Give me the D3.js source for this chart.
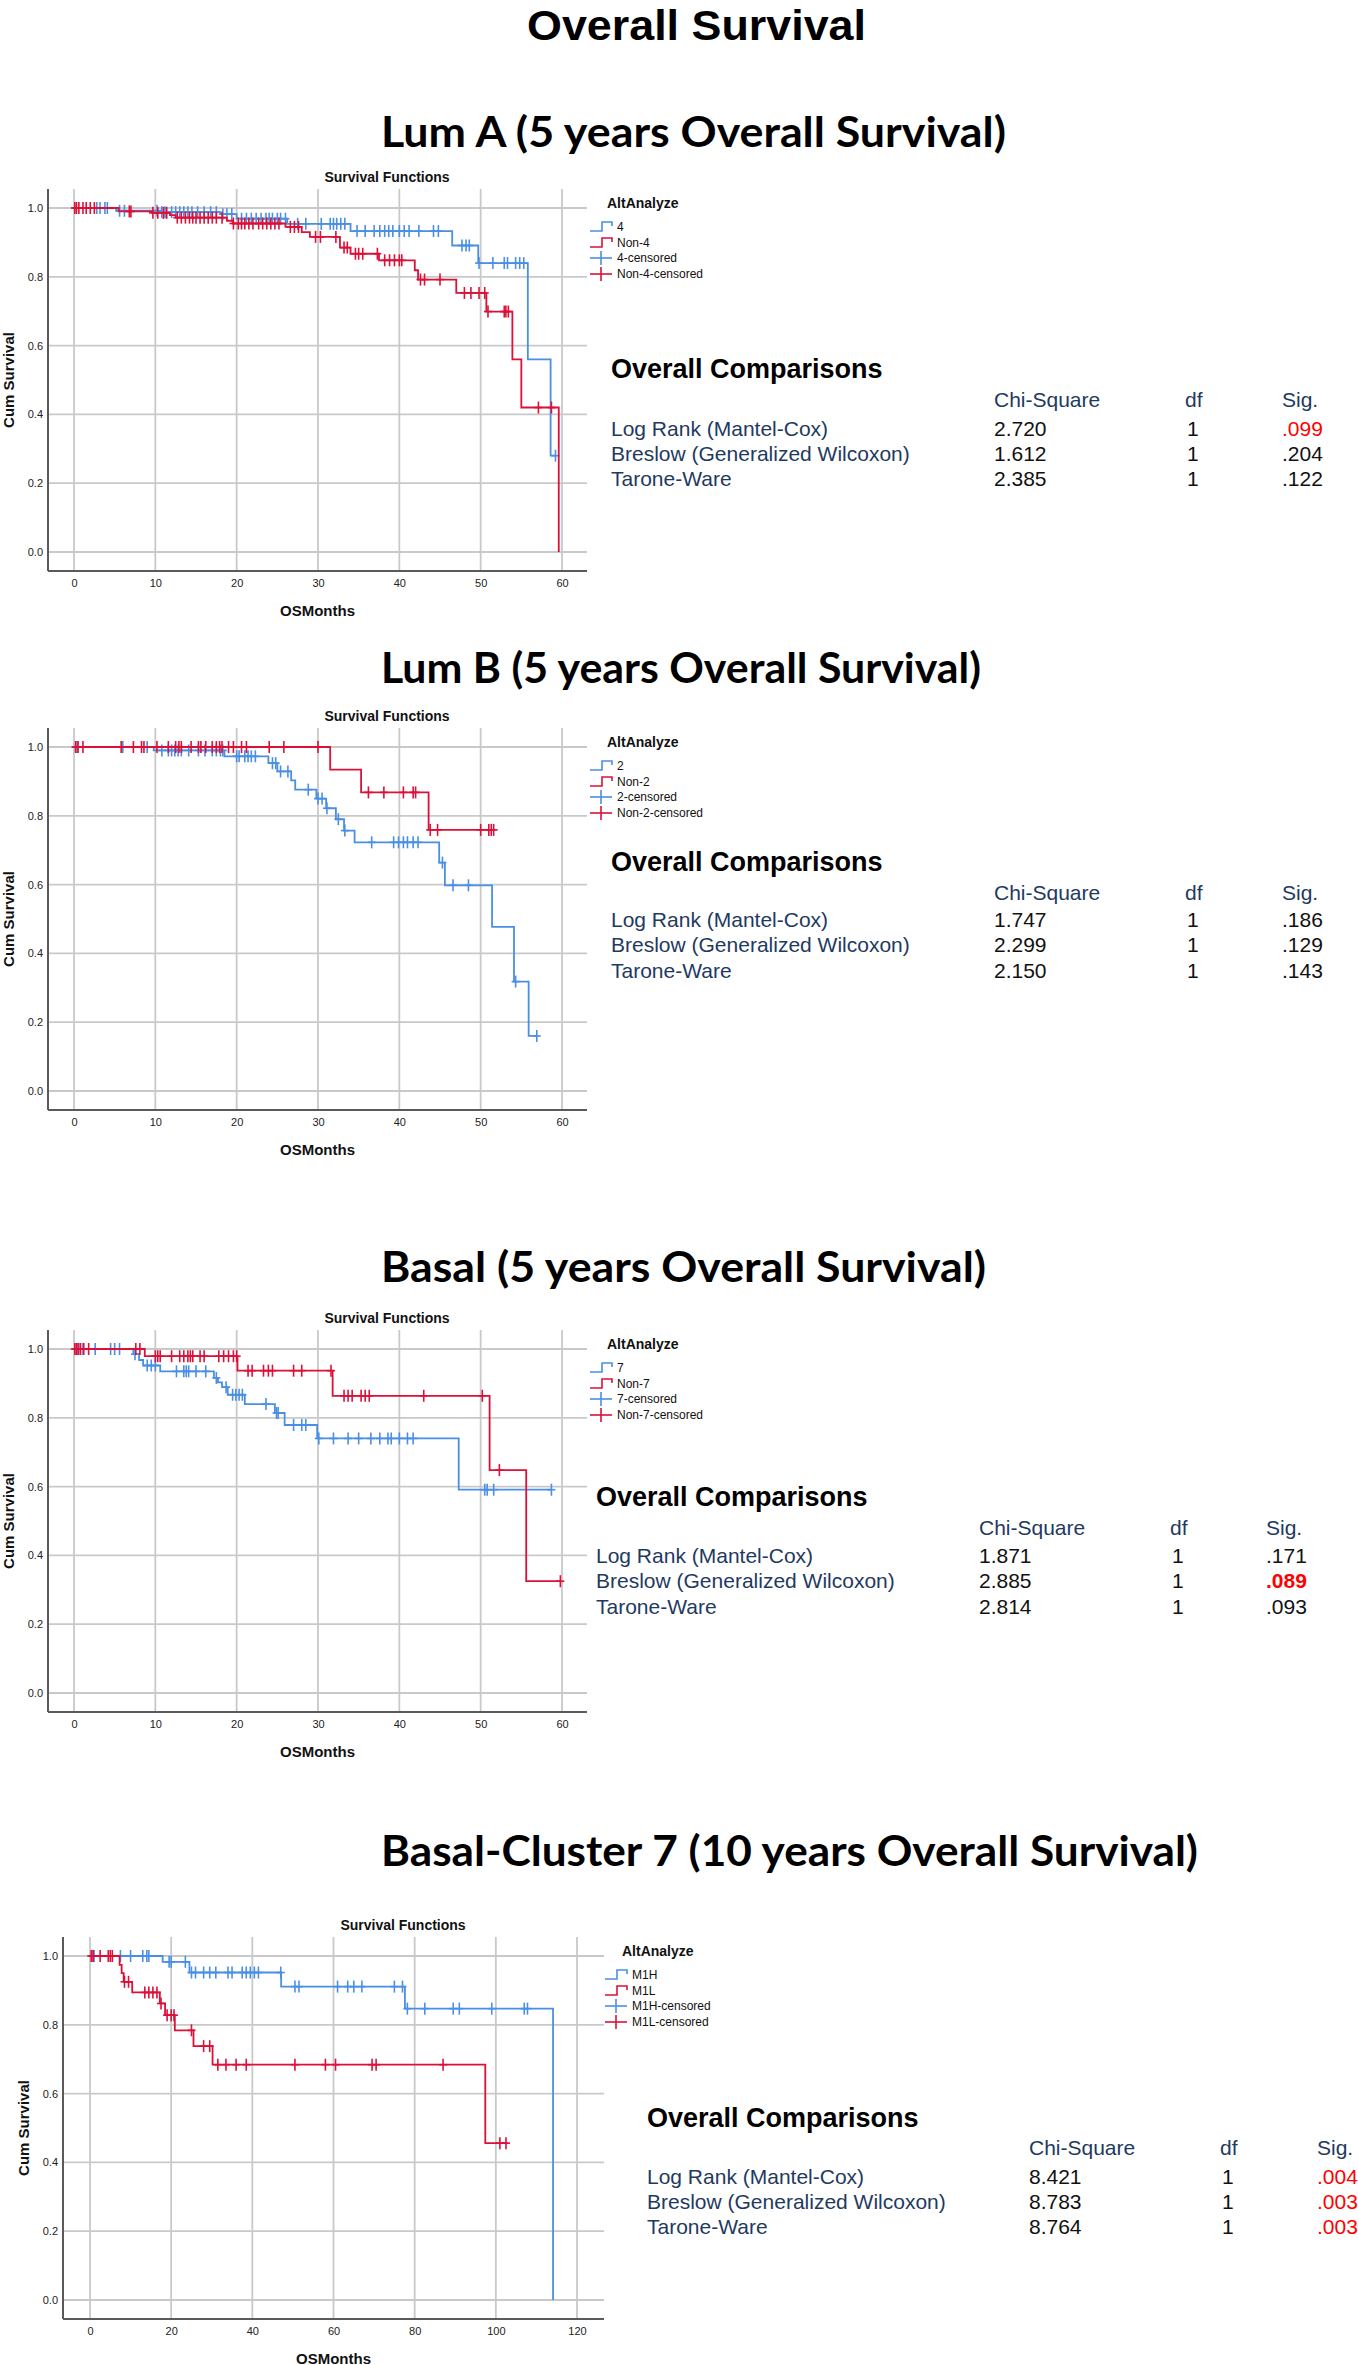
<!DOCTYPE html>
<html><head><meta charset="utf-8">
<script src="https://cdn.jsdelivr.net/npm/d3@7"></script>
<style>body{margin:0;background:#fff} svg{display:block}</style>
</head><body>
<svg id="c" width="1358" height="2365"></svg>
<script>
// ---------------- DATA ----------------
const mainTitle = "Overall Survival";
const headings = ["Lum A (5 years Overall Survival)", "Lum B (5 years Overall Survival)", "Basal (5 years Overall Survival)", "Basal-Cluster 7 (10 years Overall Survival)"];
const groupLabels = [["4", "Non-4"], ["2", "Non-2"], ["7", "Non-7"], ["M1H", "M1L"]];
const xTicks5y = [0, 10, 20, 30, 40, 50, 60];
const xTicks10y = [0, 20, 40, 60, 80, 100, 120];
const yTicks = [0, 0.2, 0.4, 0.6, 0.8, 1.0];
const testNames = ["Log Rank (Mantel-Cox)", "Breslow (Generalized Wilcoxon)", "Tarone-Ware"];
const tableHeaders = ["Chi-Square", "df", "Sig."];
const chiSquare = [["2.720", "1.612", "2.385"], ["1.747", "2.299", "2.150"], ["1.871", "2.885", "2.814"], ["8.421", "8.783", "8.764"]];
const dfValues = [["1", "1", "1"], ["1", "1", "1"], ["1", "1", "1"], ["1", "1", "1"]];
const sigValues = [[".099", ".204", ".122"], [".186", ".129", ".143"], [".171", ".089", ".093"], [".004", ".003", ".003"]];
const sigFlag = [[1, 0, 0], [0, 0, 0], [0, 2, 0], [1, 1, 1]]; // 1 = red, 2 = red bold

// Kaplan-Meier steps: [month, survival after event]; plus end month and censor months
const p1BlueEvents = [[5.2, 0.992], [10.6, 0.988], [18.0, 0.982], [20.0, 0.969], [26.2, 0.954], [34.0, 0.933], [46.5, 0.891], [49.7, 0.840], [55.8, 0.560], [58.6, 0.280]];
const p1BlueEnd = 59.2;
const p1BlueCens = [2.8, 3.2, 3.8, 4.1, 5.6, 6.2, 10.2, 10.8, 11.2, 12, 12.5, 13, 13.5, 14, 14.5, 15.2, 16, 16.8, 17.5, 18.3, 18.8, 19.4, 20.6, 21.2, 21.8, 22.4, 23, 23.6, 24, 24.4, 25, 25.4, 26, 27.5, 28.5, 30.4, 31.5, 31.9, 32.3, 32.8, 33.3, 34.8, 35.8, 36.9, 37.6, 38.2, 38.7, 39.2, 40, 40.6, 41.2, 42.4, 44.2, 44.8, 47.7, 48.2, 48.6, 49.8, 51.5, 52.9, 53.3, 54.3, 54.8, 55.3, 59.2];
const p1RedEvents = [[5.5, 0.990], [9.6, 0.986], [11.8, 0.979], [12.5, 0.972], [18.8, 0.963], [19.5, 0.955], [26.0, 0.945], [28.0, 0.930], [29.0, 0.916], [32.7, 0.885], [34.0, 0.867], [37.5, 0.848], [41.9, 0.819], [42.3, 0.792], [47.0, 0.753], [50.7, 0.699], [53.9, 0.560], [55.0, 0.420], [59.6, 0.0]];
const p1RedEnd = 59.6;
const p1RedCens = [0.1, 0.3, 0.6, 1.1, 1.5, 2, 2.5, 6.8, 7, 9.7, 10.3, 11, 11.4, 12.7, 13.2, 13.7, 14.2, 14.6, 15, 15.5, 16, 16.5, 17, 17.5, 18.2, 19.6, 20.2, 20.6, 21, 21.5, 22, 22.7, 23.2, 23.7, 24.2, 24.7, 25.2, 26.6, 27.1, 27.6, 29.7, 30.3, 32.2, 33.2, 33.6, 34.6, 35, 35.5, 37.3, 38.2, 38.8, 39.4, 40, 40.3, 42.6, 43.1, 45, 48, 48.8, 49.8, 50.5, 50.9, 52.9, 53.1, 53.4, 57.1, 58.7];

const p2BlueEvents = [[9.8, 0.990], [18.5, 0.973], [23.9, 0.953], [25.0, 0.929], [26.7, 0.903], [27.2, 0.876], [29.8, 0.850], [31.0, 0.822], [32.2, 0.790], [33.2, 0.757], [34.5, 0.723], [44.9, 0.664], [45.6, 0.598], [51.4, 0.477], [54.1, 0.318], [55.9, 0.160]];
const p2BlueEnd = 56.9;
const p2BlueCens = [0.2, 0.4, 6, 9, 10.8, 11.6, 12, 12.4, 12.8, 13.2, 14.1, 15.3, 16.1, 17, 17.5, 18, 18.3, 20, 20.3, 21, 21.4, 21.8, 22.3, 24.4, 24.8, 25.4, 26.3, 28.8, 30, 30.5, 31.1, 32.5, 33.3, 36.6, 39.3, 39.9, 40.5, 41, 41.7, 42.3, 45.3, 46.6, 48.5, 54.3, 56.9];
const p2RedEvents = [[31.5, 0.934], [35.3, 0.868], [43.6, 0.759]];
const p2RedEnd = 51.6;
const p2RedCens = [0.2, 0.5, 1.1, 5.8, 7.3, 8.3, 8.6, 10.2, 11.6, 12.5, 12.9, 13.2, 14.4, 15.3, 15.6, 16.2, 17, 17.5, 17.9, 18.2, 19, 19.6, 20.6, 21.2, 24, 25.8, 30, 36.2, 38.1, 40.5, 41.7, 42, 43.8, 44.7, 50, 51, 51.3, 51.6];

const p3BlueEvents = [[7.3, 0.985], [8.0, 0.968], [8.5, 0.952], [10.6, 0.935], [17.2, 0.916], [17.7, 0.903], [18.2, 0.889], [18.9, 0.867], [21.0, 0.840], [24.7, 0.814], [25.9, 0.779], [29.9, 0.740], [47.3, 0.591]];
const p3BlueEnd = 58.7;
const p3BlueCens = [0.3, 0.6, 1.1, 2.6, 4.5, 5, 5.6, 7.5, 9, 9.5, 10, 12.6, 13.5, 13.8, 14.1, 15, 16.2, 17.5, 18.7, 19.5, 19.9, 20.3, 20.7, 23.6, 24.9, 25.1, 27, 28, 28.5, 30.1, 31.9, 33.7, 35, 36.5, 37.6, 38.6, 39, 40, 41, 41.7, 50.5, 50.8, 51.6, 58.7];
const p3RedEvents = [[8.7, 0.979], [20.1, 0.937], [31.8, 0.864], [51.1, 0.648], [55.6, 0.325]];
const p3RedEnd = 59.8;
const p3RedCens = [0.1, 0.3, 0.5, 0.8, 1.2, 1.8, 7.6, 8.1, 10, 10.3, 10.6, 12, 13, 13.5, 14, 14.3, 14.6, 15.5, 16, 17.8, 18.4, 19, 19.6, 20, 21.4, 21.9, 23.3, 23.9, 24.4, 27, 28, 31.6, 33.2, 33.7, 34.2, 35.3, 35.8, 36.3, 43, 50.2, 52.3, 59.8];

const p4BlueEvents = [[17.9, 0.983], [24.5, 0.952], [47.1, 0.911], [77.6, 0.847], [114.1, 0.0]];
const p4BlueEnd = 114.1;
const p4BlueCens = [0.5, 1, 7.5, 10, 13, 14, 14.5, 19.5, 20, 23.5, 25, 26, 28, 29.5, 31, 34, 35, 37.5, 38.5, 39.5, 40.5, 41.5, 47, 50.5, 51.5, 61, 63.5, 65, 67, 75, 77, 78.2, 82.5, 89.5, 91, 99, 107, 107.8];
const p4RedEvents = [[7.3, 0.974], [7.8, 0.950], [8.3, 0.925], [10.4, 0.894], [17.2, 0.862], [18.5, 0.828], [20.9, 0.784], [25.5, 0.738], [30.2, 0.684], [97.4, 0.456]];
const p4RedEnd = 102.9;
const p4RedCens = [0.3, 0.8, 2.5, 4.5, 5, 5.5, 8.5, 9.5, 13.5, 14.5, 15.5, 16.5, 17.5, 19, 20, 20.7, 25, 28, 29.5, 31.5, 33.5, 36, 38.5, 50.5, 58, 60.5, 69.5, 70.5, 87, 101, 102.5];

// ---------------- LAYOUT / STYLE ----------------
const BLUE = "#4a8fe4", RED = "#dc1038", NAVY = "#1f3a5f";
const FONT = "'Liberation Sans', Arial, sans-serif";
const HFONT = "Lato, 'Open Sans', sans-serif";
const panels = [
  {heading: 0, hy: 132, hw: 625, y1: 208, xMax: 60, ticks: xTicks5y, x0: 74, x1: 562, left: 48, right: 587, sfx: 387, legX: 590, oc: [611, 369], hdr: 399, rows: [428, 453, 478], cols: [994, 1185, 1282],
   blue: [p1BlueEvents, p1BlueEnd, p1BlueCens], red: [p1RedEvents, p1RedEnd, p1RedCens]},
  {heading: 1, hy: 668, hw: 600, y1: 747, xMax: 60, ticks: xTicks5y, x0: 74, x1: 562, left: 48, right: 587, sfx: 387, legX: 590, oc: [611, 862], hdr: 892, rows: [919, 944, 970], cols: [994, 1185, 1282],
   blue: [p2BlueEvents, p2BlueEnd, p2BlueCens], red: [p2RedEvents, p2RedEnd, p2RedCens]},
  {heading: 2, hy: 1267, hw: 605, y1: 1349, xMax: 60, ticks: xTicks5y, x0: 74, x1: 562, left: 48, right: 587, sfx: 387, legX: 590, oc: [596, 1497], hdr: 1527, rows: [1555, 1580, 1606], cols: [979, 1170, 1266],
   blue: [p3BlueEvents, p3BlueEnd, p3BlueCens], red: [p3RedEvents, p3RedEnd, p3RedCens]},
  {heading: 3, hy: 1851, hw: 817, y1: 1956, xMax: 120, ticks: xTicks10y, x0: 90, x1: 577, left: 63, right: 604, sfx: 403, legX: 605, oc: [647, 2118], hdr: 2147, rows: [2176, 2201, 2226], cols: [1029, 1220, 1317],
   blue: [p4BlueEvents, p4BlueEnd, p4BlueCens], red: [p4RedEvents, p4RedEnd, p4RedCens]}
];

const svg = d3.select("#c");
svg.append("rect").attr("width", 1358).attr("height", 2365).attr("fill", "#fff");

svg.append("text").text(mainTitle).attr("x", 527).attr("y", 40)
  .attr("font-family", FONT).attr("font-weight", 700).attr("font-size", 42)
  .attr("textLength", 339).attr("lengthAdjust", "spacingAndGlyphs").attr("fill", "#000");

function survAt(events, t) {
  let s = 1;
  for (const e of events) { if (e[0] <= t) s = e[1]; }
  return s;
}

panels.forEach((p, pi) => {
  const g = svg.append("g");
  const x = d3.scaleLinear().domain([0, p.xMax]).range([p.x0, p.x1]);
  const y = d3.scaleLinear().domain([0, 1]).range([p.y1 + 344, p.y1]);
  const top = p.y1 - 19, bottom = p.y1 + 363;

  // heading
  g.append("text").text(headings[p.heading]).attr("x", 381).attr("y", p.hy + 15)
    .attr("font-family", HFONT).attr("font-weight", 700).attr("font-size", 42)
    .attr("textLength", p.hw).attr("lengthAdjust", "spacingAndGlyphs").attr("fill", "#000");

  // chart title
  g.append("text").text("Survival Functions").attr("x", p.sfx).attr("y", p.y1 - 31)
    .attr("text-anchor", "middle").attr("dominant-baseline", "central")
    .attr("font-family", FONT).attr("font-weight", 700).attr("font-size", 14).attr("fill", "#111");

  // gridlines
  g.append("g").selectAll("line").data(yTicks).join("line")
    .attr("x1", p.left).attr("x2", p.right).attr("y1", d => y(d)).attr("y2", d => y(d))
    .attr("stroke", "#c9c9c9").attr("stroke-width", 1.8);
  g.append("g").selectAll("line").data(p.ticks).join("line")
    .attr("x1", d => x(d)).attr("x2", d => x(d)).attr("y1", top).attr("y2", bottom)
    .attr("stroke", "#c9c9c9").attr("stroke-width", 1.8);

  // axes
  const xa = g.append("g").attr("transform", `translate(0,${bottom})`)
    .call(d3.axisBottom(x).tickValues(p.ticks).tickSize(0).tickPadding(8));
  xa.select(".domain").remove();
  xa.selectAll("text").attr("font-family", FONT).attr("font-size", 11).attr("fill", "#222");
  const ya = g.append("g").attr("transform", `translate(${p.left},0)`)
    .call(d3.axisLeft(y).tickValues(yTicks).tickFormat(d3.format(".1f")).tickSize(0).tickPadding(5));
  ya.select(".domain").remove();
  ya.selectAll("text").attr("font-family", FONT).attr("font-size", 11).attr("fill", "#222");
  g.append("line").attr("x1", p.left).attr("x2", p.left).attr("y1", top).attr("y2", bottom)
    .attr("stroke", "#5a5a5a").attr("stroke-width", 2);
  g.append("line").attr("x1", p.left).attr("x2", p.right).attr("y1", bottom).attr("y2", bottom)
    .attr("stroke", "#5a5a5a").attr("stroke-width", 2);

  // axis titles
  g.append("text").text("OSMonths").attr("x", (p.left + p.right) / 2).attr("y", p.y1 + 402)
    .attr("text-anchor", "middle").attr("dominant-baseline", "central")
    .attr("font-family", FONT).attr("font-weight", 700).attr("font-size", 15).attr("fill", "#111");
  g.append("text").text("Cum Survival")
    .attr("transform", `translate(${p.left - 40},${p.y1 + 172}) rotate(-90)`)
    .attr("text-anchor", "middle").attr("dominant-baseline", "central")
    .attr("font-family", FONT).attr("font-weight", 700).attr("font-size", 15).attr("fill", "#111");

  // KM curves
  const line = d3.line().x(d => x(d[0])).y(d => y(d[1])).curve(d3.curveStepAfter);
  [[p.blue, BLUE], [p.red, RED]].forEach(([ser, col]) => {
    const [events, end, cens] = ser;
    const last = events.length ? events[events.length - 1] : [0, 1];
    const pts = [[0, 1], ...events];
    if (end > last[0]) pts.push([end, last[1]]);
    g.append("path").attr("d", line(pts)).attr("fill", "none").attr("stroke", col).attr("stroke-width", 1.8);
    const cg = g.append("g").attr("stroke", col).attr("stroke-width", 1.6);
    cens.forEach(t => {
      const cx = x(t), cy = y(survAt(events, t));
      cg.append("line").attr("x1", cx).attr("x2", cx).attr("y1", cy - 6).attr("y2", cy + 6);
      cg.append("line").attr("x1", cx - 4).attr("x2", cx + 4).attr("y1", cy).attr("y2", cy);
    });
  });

  // legend
  const lx = p.legX, ly = p.y1;
  g.append("text").text("AltAnalyze").attr("x", lx + 17).attr("y", ly - 5).attr("dominant-baseline", "central")
    .attr("font-family", FONT).attr("font-weight", 700).attr("font-size", 14).attr("fill", "#111");
  const labs = groupLabels[pi];
  const items = [[labs[0], BLUE, "step"], [labs[1], RED, "step"], [labs[0] + "-censored", BLUE, "cross"], [labs[1] + "-censored", RED, "cross"]];
  const offs = [19, 35, 50, 66];
  items.forEach((it, i) => {
    const yy = ly + offs[i];
    if (it[2] === "step") {
      g.append("path").attr("d", `M${lx},${yy + 4}H${lx + 12}V${yy - 5}H${lx + 22}V${yy - 1}`)
        .attr("fill", "none").attr("stroke", it[1]).attr("stroke-width", 1.6);
    } else {
      g.append("line").attr("x1", lx).attr("x2", lx + 22).attr("y1", yy).attr("y2", yy).attr("stroke", it[1]).attr("stroke-width", 1.6);
      g.append("line").attr("x1", lx + 11).attr("x2", lx + 11).attr("y1", yy - 7).attr("y2", yy + 7).attr("stroke", it[1]).attr("stroke-width", 1.6);
    }
    g.append("text").text(it[0]).attr("x", lx + 27).attr("y", yy).attr("dominant-baseline", "central")
      .attr("font-family", FONT).attr("font-size", 12).attr("fill", "#111");
  });

  // comparisons table
  g.append("text").text("Overall Comparisons").attr("x", p.oc[0]).attr("y", p.oc[1]).attr("dominant-baseline", "central")
    .attr("font-family", FONT).attr("font-weight", 700).attr("font-size", 27).attr("fill", "#000");
  tableHeaders.forEach((h, i) => {
    g.append("text").text(h).attr("x", p.cols[i]).attr("y", p.hdr).attr("dominant-baseline", "central")
      .attr("font-family", FONT).attr("font-size", 21).attr("fill", NAVY);
  });
  testNames.forEach((tn, r) => {
    const yy = p.rows[r];
    g.append("text").text(tn).attr("x", p.oc[0]).attr("y", yy).attr("dominant-baseline", "central")
      .attr("font-family", FONT).attr("font-size", 21).attr("fill", NAVY);
    g.append("text").text(chiSquare[pi][r]).attr("x", p.cols[0]).attr("y", yy).attr("dominant-baseline", "central")
      .attr("font-family", FONT).attr("font-size", 21).attr("fill", "#111");
    g.append("text").text(dfValues[pi][r]).attr("x", p.cols[1] + 2).attr("y", yy).attr("dominant-baseline", "central")
      .attr("font-family", FONT).attr("font-size", 21).attr("fill", "#111");
    const f = sigFlag[pi][r];
    g.append("text").text(sigValues[pi][r]).attr("x", p.cols[2]).attr("y", yy).attr("dominant-baseline", "central")
      .attr("font-family", FONT).attr("font-size", 21).attr("font-weight", f === 2 ? 700 : 400)
      .attr("fill", f ? "#ff0000" : "#111");
  });
});
</script>
</body></html>
